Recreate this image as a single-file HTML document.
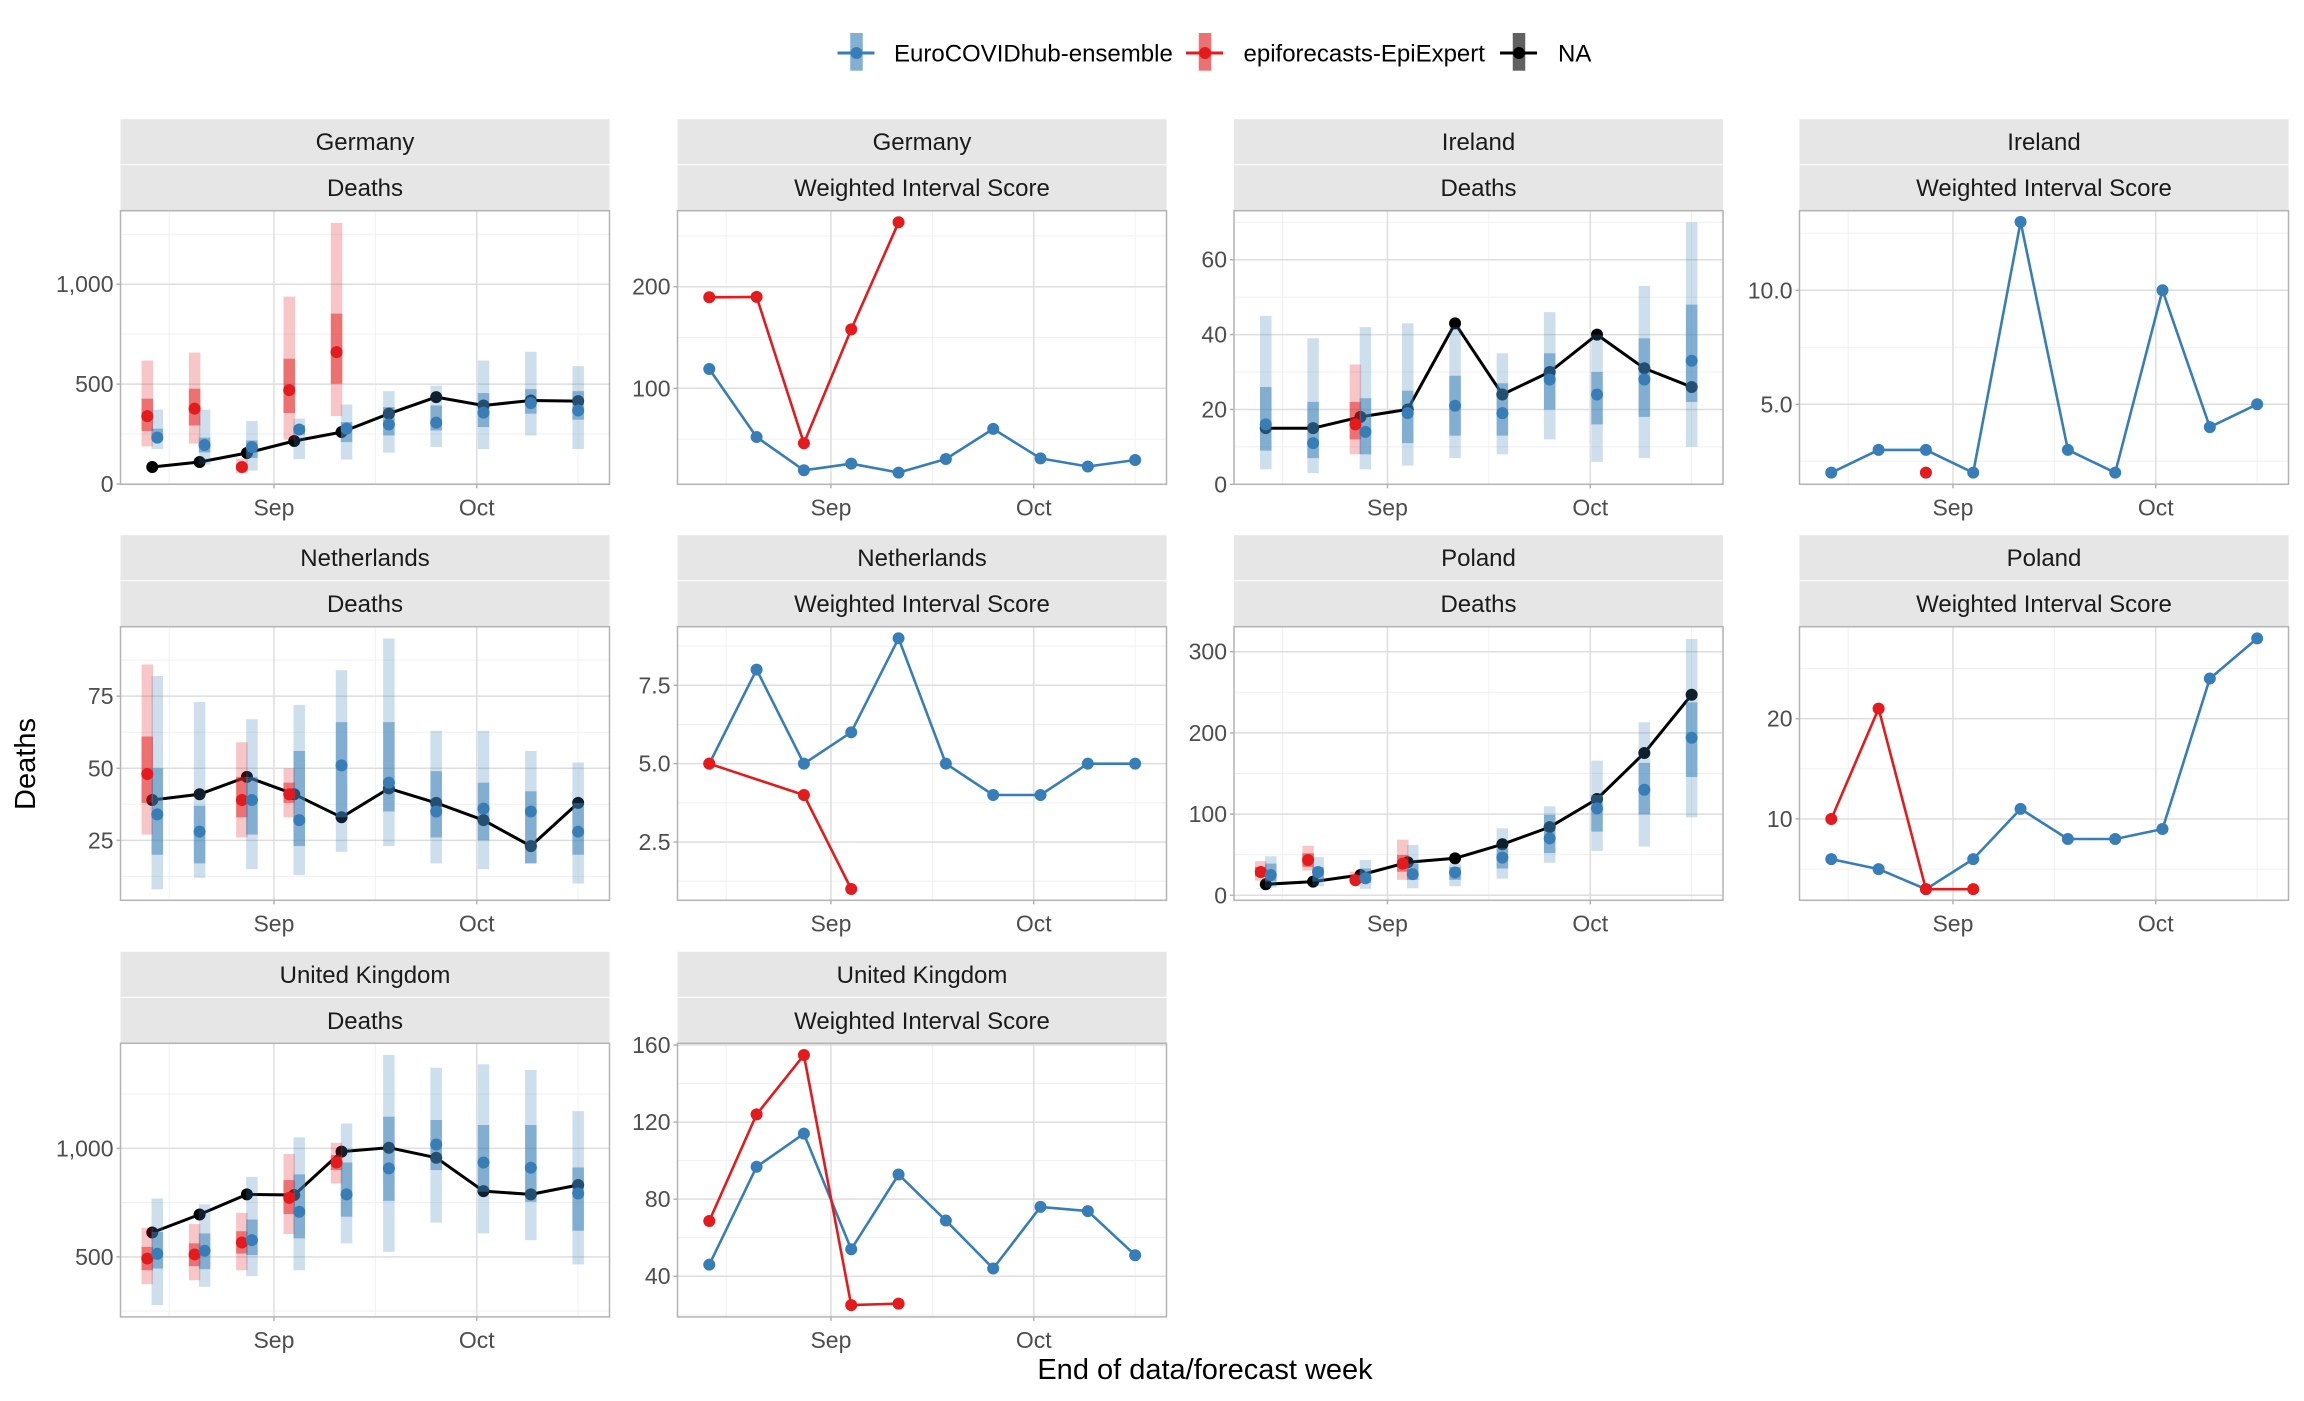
<!DOCTYPE html>
<html><head><meta charset="utf-8"><style>
html,body{margin:0;padding:0;background:#fff;}
svg{display:block;font-family:"Liberation Sans",Arial,sans-serif;}
</style></head><body>
<svg id="chart" width="2304" height="1401" viewBox="0 0 2304 1401" xmlns="http://www.w3.org/2000/svg"></svg>
<script>
// ---- shared x data ----
const weekDays = [0,7,14,21,28,35,42,49,56,63]; // days since 2021-08-14
const weekLabels = ["Aug 14","Aug 21","Aug 28","Sep 4","Sep 11","Sep 18","Sep 25","Oct 2","Oct 9","Oct 16"];
const xTickDays = [18,48];
const xTickLabels = ["Sep","Oct"];
const xMinorDays = [2.5,33,63];

// ---- Germany ----
const deObs=[85,110,155,215,260,352,435,393,418,415];
const deEnsMed=[232,195,185,273,277,298,307,357,405,368];
const deEnsLo90=[175,97,67,125,122,157,185,175,243,175];
const deEnsHi90=[372,372,315,327,398,465,492,618,662,590];
const deEnsLo50=[222,158,130,247,210,243,268,285,352,322];
const deEnsHi50=[277,232,218,293,310,385,393,455,475,465];
const deEpiMed=[340,377,85,470,660,null,null,null,null,null];
const deEpiLo90=[188,202,55,222,340,null,null,null,null,null];
const deEpiHi90=[618,658,127,938,1307,null,null,null,null,null];
const deEpiLo50=[265,293,68,355,502,null,null,null,null,null];
const deEpiHi50=[427,477,100,627,853,null,null,null,null,null];
const deWisEns=[119,52,19.3,25.8,17,30.4,60,31,23,29.4];
const deWisEpi=[189.6,190,45.9,158,263.4,null,null,null,null,null];
// ---- Ireland ----
const ieObs=[15,15,18,20,43,24,30,40,31,26];
const ieEnsMed=[16,11,14,19,21,19,28,24,28,33];
const ieEnsLo90=[4,3,4,5,7,8,12,6,7,10];
const ieEnsHi90=[45,39,42,43,42,35,46,40,53,70];
const ieEnsLo50=[9,7,8,11,13,13,20,16,18,22];
const ieEnsHi50=[26,22,23,25,29,27,35,30,39,48];
const ieEpiMed=[null,null,16,null,null,null,null,null,null,null];
const ieEpiLo90=[null,null,8,null,null,null,null,null,null,null];
const ieEpiHi90=[null,null,32,null,null,null,null,null,null,null];
const ieEpiLo50=[null,null,12,null,null,null,null,null,null,null];
const ieEpiHi50=[null,null,22,null,null,null,null,null,null,null];
const ieWisEns=[2,3,3,2,13,3,2,10,4,5];
const ieWisEpi=[null,null,2,null,null,null,null,null,null,null];
// ---- Netherlands ----
const nlObs=[39,41,47,41,33,43,38,32,23,38];
const nlEnsMed=[34,28,39,32,51,45,35,36,35,28];
const nlEnsLo90=[8,12,15,13,21,23,17,15,17,10];
const nlEnsHi90=[82,73,67,72,84,95,63,63,56,52];
const nlEnsLo50=[20,17,27,23,33,35,26,25,17,20];
const nlEnsHi50=[50,37,47,56,66,66,49,45,42,38];
const nlEpiMed=[48,null,39,41,null,null,null,null,null,null];
const nlEpiLo90=[27,null,26,33,null,null,null,null,null,null];
const nlEpiHi90=[86,null,59,50,null,null,null,null,null,null];
const nlEpiLo50=[38,null,33,38,null,null,null,null,null,null];
const nlEpiHi50=[61,null,47,45,null,null,null,null,null,null];
const nlWisEns=[5,8,5,6,9,5,4,4,5,5];
const nlWisEpi=[5,null,4,1,null,null,null,null,null,null];
// ---- Poland ----
const plObs=[13.5,16.8,25,40.6,45.5,62.8,84,118.6,175.2,247];
const plEnsMed=[25,28.7,21,26,28,46.4,70,107,130,194];
const plEnsLo90=[9.4,11,8,8.6,11,20.5,40,54.6,60,96];
const plEnsHi90=[48,47,43.5,62,39,82.5,109.6,165.8,213,315.6];
const plEnsLo50=[17,17,15,19,19,33,52,78.4,99.7,145.7];
const plEnsHi50=[39,35,33,39,35,58,99,123.5,163,237.6];
const plEpiMed=[28.7,43.5,18.5,39,null,null,null,null,null,null];
const plEpiLo90=[18,30.4,15,19,null,null,null,null,null,null];
const plEpiHi90=[42,60.7,29,68.5,null,null,null,null,null,null];
const plEpiLo50=[23,35,17,29,null,null,null,null,null,null];
const plEpiHi50=[35,51.7,25,49.6,null,null,null,null,null,null];
const plWisEns=[6,5,3,6,11,8,8,9,24,28];
const plWisEpi=[10,21,3,3,null,null,null,null,null,null];
// ---- United Kingdom ----
const ukObs=[612,695,788,785,985,1003,957,803,788,831];
const ukEnsMed=[514,528,577,708,788,908,1018,935,911,792];
const ukEnsLo90=[277,362,411,438,562,523,658,608,577,465];
const ukEnsHi90=[769,742,869,1051,1115,1431,1372,1388,1362,1172];
const ukEnsLo50=[446,443,508,585,685,758,900,800,754,620];
const ukEnsHi50=[615,608,672,880,935,1146,1131,1108,1108,912];
const ukEpiMed=[492,511,566,772,935,null,null,null,null,null];
const ukEpiLo90=[374,392,438,605,838,null,null,null,null,null];
const ukEpiHi90=[634,651,703,974,1026,null,null,null,null,null];
const ukEpiLo50=[438,457,515,697,900,null,null,null,null,null];
const ukEpiHi50=[546,562,618,854,969,null,null,null,null,null];
const ukWisEns=[46,96.8,114,54,92.8,68.9,44,76,73.8,50.9];
const ukWisEpi=[68.7,124,154.8,25,25.8,null,null,null,null,null];

// ---- y ticks ----
const deDeathTicks=[0,500,1000], deDeathLabels=["0","500","1,000"], deDeathMinor=[250,750,1250];
const deWisTicks=[100,200], deWisLabels=["100","200"], deWisMinor=[50,150,250];
const ieDeathTicks=[0,20,40,60], ieDeathLabels=["0","20","40","60"], ieDeathMinor=[10,30,50,70];
const ieWisTicks=[5,10], ieWisLabels=["5.0","10.0"], ieWisMinor=[2.5,7.5,12.5];
const nlDeathTicks=[25,50,75], nlDeathLabels=["25","50","75"], nlDeathMinor=[12.5,37.5,62.5,87.5];
const nlWisTicks=[2.5,5,7.5], nlWisLabels=["2.5","5.0","7.5"], nlWisMinor=[1.25,3.75,6.25,8.75];
const plDeathTicks=[0,100,200,300], plDeathLabels=["0","100","200","300"], plDeathMinor=[50,150,250];
const plWisTicks=[10,20], plWisLabels=["10","20"], plWisMinor=[5,15,25];
const ukDeathTicks=[500,1000], ukDeathLabels=["500","1,000"], ukDeathMinor=[250,750,1250];
const ukWisTicks=[40,80,120,160], ukWisLabels=["40","80","120","160"], ukWisMinor=[20,60,100,140];

const NS="http://www.w3.org/2000/svg";
const svg=document.getElementById("chart");
const BLUE="#377EB8", RED="#E41A1C";
function mk(tag,attrs,parent){const e=document.createElementNS(NS,tag);for(const k in attrs)e.setAttribute(k,attrs[k]);(parent||svg).appendChild(e);return e;}

const colLeft=[120.5,677.5,1234,1799.5];
const rowTop=[210.7,626.7,1043.3];
const PW=489, PH=273.6;
const D0=-4.7, DPX=6.76;

function panel(o){
  const L=colLeft[o.col], T=rowTop[o.row], B=T+PH, R=L+PW;
  const g=mk("g",{});
  
  
  const xs=d=>L+(d-D0)*DPX;
  const ys=v=>B-(v-o.ymin)/(o.ymax-o.ymin)*PH;
  const s1=mk("rect",{x:L,y:T-91.5,width:PW,height:45,fill:"#e6e6e6"},g);
  
  
  const s2=mk("rect",{x:L,y:T-45.5,width:PW,height:45.5,fill:"#e6e6e6"},g);
  
  
  const t1=mk("text",{x:L+PW/2,y:T-60.5,"text-anchor":"middle","font-size":"24",fill:"#1a1a1a"},g);t1.textContent=o.country;
  
  
  const t2=mk("text",{x:L+PW/2,y:T-14.5,"text-anchor":"middle","font-size":"24",fill:"#1a1a1a"},g);t2.textContent=o.metric;
  
  
  o.minor.forEach(v=>{const y=ys(v);if(y>T&&y<B)mk("line",{x1:L,x2:R,y1:y,y2:y,stroke:"#f0f0f0","stroke-width":1},g);});
  xMinorDays.forEach(d=>mk("line",{x1:xs(d),x2:xs(d),y1:T,y2:B,stroke:"#f0f0f0","stroke-width":1},g));
  o.ticks.forEach((v,i)=>{const y=ys(v);
    mk("line",{x1:L,x2:R,y1:y,y2:y,stroke:"#dedede","stroke-width":1.5},g);
    mk("line",{x1:L-4,x2:L,y1:y,y2:y,stroke:"#b3b3b3","stroke-width":1.5},g);
    const t=mk("text",{x:L-7,y:y+8,"text-anchor":"end","font-size":"23",fill:"#4d4d4d"},g);t.textContent=o.labels[i];
    
    
  });
  xTickDays.forEach((d,i)=>{const x=xs(d);
    mk("line",{x1:x,x2:x,y1:T,y2:B,stroke:"#dedede","stroke-width":1.5},g);
    mk("line",{x1:x,x2:x,y1:B,y2:B+4,stroke:"#b3b3b3","stroke-width":1.5},g);
    const t=mk("text",{x:x,y:B+31,"text-anchor":"middle","font-size":"23",fill:"#4d4d4d"},g);t.textContent=xTickLabels[i];
    
    
  });
  const line=(arr,dx,color,w,name)=>{let pts=[];arr.forEach((v,i)=>{if(v!=null)pts.push((xs(weekDays[i])+dx[i]).toFixed(1)+","+ys(v).toFixed(1));});
    if(pts.length>1){const p=mk("polyline",{points:pts.join(" "),fill:"none",stroke:color,"stroke-width":w,"stroke-linejoin":"round"},g);
      
      }};
  const dots=(arr,dx,color,name)=>arr.forEach((v,i)=>{if(v==null)return;
    const c=mk("circle",{cx:xs(weekDays[i])+dx[i],cy:ys(v),r:6,fill:color},g);
    
    });
  const bars=(lo,hi,dx,color,op,name)=>lo.forEach((v,i)=>{if(v==null)return;
    const y1=ys(hi[i]),y2=ys(v);
    const r=mk("rect",{x:xs(weekDays[i])+dx[i]-5.75,y:y1,width:11.5,height:y2-y1,fill:color,"fill-opacity":op},g);
    
    });
  const zero=weekDays.map(()=>0);
  if(o.type==="deaths"){
    const hasEpi=o.epiMed.map(v=>v!=null);
    const dxE=hasEpi.map(h=>h?5:0), dxR=hasEpi.map(h=>h?-5:0);
    line(o.obs,zero,"#000",3,"observed-line");
    dots(o.obs,zero,"#000","observed-point");
    bars(o.epiLo90,o.epiHi90,dxR,RED,0.25,"epiexpert-90-interval");
    bars(o.epiLo50,o.epiHi50,dxR,RED,0.5,"epiexpert-50-interval");
    bars(o.ensLo90,o.ensHi90,dxE,BLUE,0.25,"ensemble-90-interval");
    bars(o.ensLo50,o.ensHi50,dxE,BLUE,0.5,"ensemble-50-interval");
    dots(o.epiMed,dxR,RED,"epiexpert-median-point");
    dots(o.ensMed,dxE,BLUE,"ensemble-median-point");
  } else {
    line(o.ens,zero,BLUE,2.6,"ensemble-wis-line");
    line(o.epi,zero,RED,2.6,"epiexpert-wis-line");
    dots(o.ens,zero,BLUE,"ensemble-wis-point");
    dots(o.epi,zero,RED,"epiexpert-wis-point");
  }
  mk("rect",{x:L,y:T,width:PW,height:PH,fill:"none",stroke:"#b3b3b3","stroke-width":1.5},g);
}

panel({name:"panel-germany-deaths",col:0,row:0,country:"Germany",metric:"Deaths",type:"deaths",ymin:-1.5,ymax:1368,ticks:deDeathTicks,labels:deDeathLabels,minor:deDeathMinor,obs:deObs,ensMed:deEnsMed,ensLo90:deEnsLo90,ensHi90:deEnsHi90,ensLo50:deEnsLo50,ensHi50:deEnsHi50,epiMed:deEpiMed,epiLo90:deEpiLo90,epiHi90:deEpiHi90,epiLo50:deEpiLo50,epiHi50:deEpiHi50});
panel({name:"panel-germany-wis",col:1,row:0,country:"Germany",metric:"Weighted Interval Score",type:"wis",ymin:5.5,ymax:274.8,ticks:deWisTicks,labels:deWisLabels,minor:deWisMinor,ens:deWisEns,epi:deWisEpi});
panel({name:"panel-ireland-deaths",col:2,row:0,country:"Ireland",metric:"Deaths",type:"deaths",ymin:0,ymax:73.1,ticks:ieDeathTicks,labels:ieDeathLabels,minor:ieDeathMinor,obs:ieObs,ensMed:ieEnsMed,ensLo90:ieEnsLo90,ensHi90:ieEnsHi90,ensLo50:ieEnsLo50,ensHi50:ieEnsHi50,epiMed:ieEpiMed,epiLo90:ieEpiLo90,epiHi90:ieEpiHi90,epiLo50:ieEpiLo50,epiHi50:ieEpiHi50});
panel({name:"panel-ireland-wis",col:3,row:0,country:"Ireland",metric:"Weighted Interval Score",type:"wis",ymin:1.49,ymax:13.49,ticks:ieWisTicks,labels:ieWisLabels,minor:ieWisMinor,ens:ieWisEns,epi:ieWisEpi});
panel({name:"panel-netherlands-deaths",col:0,row:1,country:"Netherlands",metric:"Deaths",type:"deaths",ymin:4.2,ymax:99.1,ticks:nlDeathTicks,labels:nlDeathLabels,minor:nlDeathMinor,obs:nlObs,ensMed:nlEnsMed,ensLo90:nlEnsLo90,ensHi90:nlEnsHi90,ensLo50:nlEnsLo50,ensHi50:nlEnsHi50,epiMed:nlEpiMed,epiLo90:nlEpiLo90,epiHi90:nlEpiHi90,epiLo50:nlEpiLo50,epiHi50:nlEpiHi50});
panel({name:"panel-netherlands-wis",col:1,row:1,country:"Netherlands",metric:"Weighted Interval Score",type:"wis",ymin:0.64,ymax:9.37,ticks:nlWisTicks,labels:nlWisLabels,minor:nlWisMinor,ens:nlWisEns,epi:nlWisEpi});
panel({name:"panel-poland-deaths",col:2,row:1,country:"Poland",metric:"Deaths",type:"deaths",ymin:-6.2,ymax:330.8,ticks:plDeathTicks,labels:plDeathLabels,minor:plDeathMinor,obs:plObs,ensMed:plEnsMed,ensLo90:plEnsLo90,ensHi90:plEnsHi90,ensLo50:plEnsLo50,ensHi50:plEnsHi50,epiMed:plEpiMed,epiLo90:plEpiLo90,epiHi90:plEpiHi90,epiLo50:plEpiLo50,epiHi50:plEpiHi50});
panel({name:"panel-poland-wis",col:3,row:1,country:"Poland",metric:"Weighted Interval Score",type:"wis",ymin:1.89,ymax:29.17,ticks:plWisTicks,labels:plWisLabels,minor:plWisMinor,ens:plWisEns,epi:plWisEpi});
panel({name:"panel-uk-deaths",col:0,row:2,country:"United Kingdom",metric:"Deaths",type:"deaths",ymin:223,ymax:1484.6,ticks:ukDeathTicks,labels:ukDeathLabels,minor:ukDeathMinor,obs:ukObs,ensMed:ukEnsMed,ensLo90:ukEnsLo90,ensHi90:ukEnsHi90,ensLo50:ukEnsLo50,ensHi50:ukEnsHi50,epiMed:ukEpiMed,epiLo90:ukEpiLo90,epiHi90:ukEpiHi90,epiLo50:ukEpiLo50,epiHi50:ukEpiHi50});
panel({name:"panel-uk-wis",col:1,row:2,country:"United Kingdom",metric:"Weighted Interval Score",type:"wis",ymin:18.9,ymax:160.9,ticks:ukWisTicks,labels:ukWisLabels,minor:ukWisMinor,ens:ukWisEns,epi:ukWisEpi});

const yt=mk("text",{x:0,y:0,transform:"translate(35,764) rotate(-90)","text-anchor":"middle","font-size":"29",fill:"#000"});yt.textContent="Deaths";


const xt=mk("text",{x:1205,y:1379,"text-anchor":"middle","font-size":"29",fill:"#000"});xt.textContent="End of data/forecast week";



const legNames=["EuroCOVIDhub-ensemble","epiforecasts-EpiExpert","NA"];
const legColors=[BLUE,RED,"#000"];
const legKeyX=[856.5,1205,1519];
const legTextX=[894,1243.5,1558];
legNames.forEach((n,i)=>{
  const g=mk("g",{});
  
  
  const cx=legKeyX[i];
  mk("rect",{x:cx-6.25,y:33,width:12.5,height:37.7,fill:legColors[i],"fill-opacity":0.62},g);
  mk("line",{x1:cx-19,x2:cx+18,y1:53,y2:53,stroke:legColors[i],"stroke-width":3},g);
  mk("circle",{cx:cx,cy:53,r:6,fill:legColors[i]},g);
  const t=mk("text",{x:legTextX[i],y:61.5,"font-size":"24",fill:"#000"},g);t.textContent=n;
  
  
});
</script>
</body></html>
